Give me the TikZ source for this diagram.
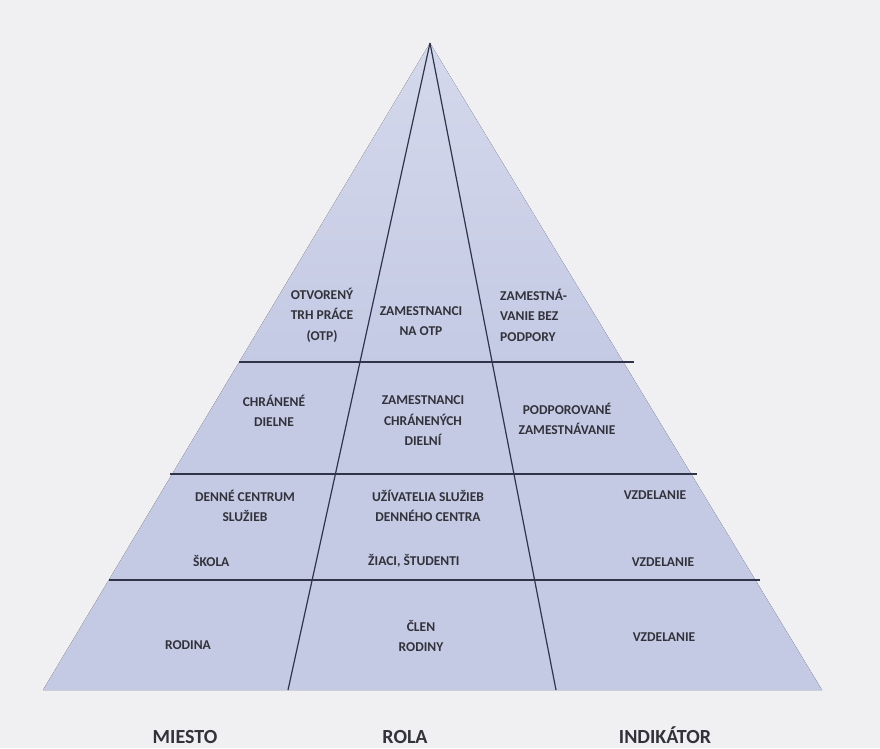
\documentclass[tikz,border=0pt]{standalone}
\usepackage{fontspec}
\setmainfont{Carlito}
\definecolor{bg}{RGB}{240,240,243}
\definecolor{pyr}{RGB}{196,202,228}
\definecolor{pyrtop}{RGB}{212,216,236}
\definecolor{rule}{RGB}{48,52,74}
\definecolor{ink}{RGB}{50,50,58}
\tikzset{
  cell/.style={font=\bfseries\fontsize{13.5}{20.5}\selectfont, text=ink, align=center, inner sep=0pt},
  leftcell/.style={cell, align=left, anchor=west},
  axis label/.style={font=\bfseries\fontsize{20}{22}\selectfont, text=ink, inner sep=0pt},
  band/.style={draw=rule, line width=1.9pt},
  divider/.style={draw=rule, line width=1.2pt},
}
\begin{document}
\begin{tikzpicture}[x=1pt,y=-1pt]
  % canvas
  \fill[bg] (0,0) rectangle (880,748);
  \useasboundingbox (0,0) rectangle (880,748);

  % pyramid corners
  \coordinate (apex) at (430,43);
  \coordinate (bl) at (43,690);
  \coordinate (br) at (822,690);
  \fill[top color=pyrtop, bottom color=pyr, middle color=pyr] (apex) -- (br) -- (bl) -- cycle;

  % column dividers
  \coordinate (c1) at (288,690);
  \coordinate (c2) at (556,690);
  \draw[divider] (apex) -- (c1);
  \draw[divider] (apex) -- (c2);

  % level boundaries
  \coordinate (l1a) at (239,362);  \coordinate (l1b) at (634,362);
  \coordinate (l2a) at (170,474);  \coordinate (l2b) at (697,474);
  \coordinate (l3a) at (109,580);  \coordinate (l3b) at (760,580);
  \draw[band] (l1a) -- (l1b);
  \draw[band] (l2a) -- (l2b);
  \draw[band] (l3a) -- (l3b);

  % level 1
  \node[cell] (otp) at (322,315) {OTVORENÝ\\TRH PRÁCE\\(OTP)};
  \node[cell] (zotp) at (421,321) {ZAMESTNANCI\\NA OTP};
  \node[leftcell] (bez) at (500,315) {ZAMESTNÁ-\\VANIE BEZ\\PODPORY};

  % level 2
  \node[cell] (chd) at (274,411) {CHRÁNENÉ\\DIELNE};
  \node[cell] (zchd) at (423,421) {ZAMESTNANCI\\CHRÁNENÝCH\\DIELNÍ};
  \node[cell] (podz) at (567,419) {PODPOROVANÉ\\ZAMESTNÁVANIE};

  % level 3
  \node[cell] (dcs) at (245,506) {DENNÉ CENTRUM\\SLUŽIEB};
  \node[leftcell] (skola) at (193,561) {ŠKOLA};
  \node[cell] (uzd) at (428,506) {UŽÍVATELIA SLUŽIEB\\DENNÉHO CENTRA};
  \node[leftcell] (ziaci) at (368,561) {ŽIACI, ŠTUDENTI};
  \node[cell] (vzd1) at (655,495) {VZDELANIE};
  \node[cell] (vzd2) at (663,562) {VZDELANIE};

  % level 4
  \node[cell] (rod) at (188,645) {RODINA};
  \node[cell] (clen) at (421,636) {ČLEN\\RODINY};
  \node[cell] (vzd3) at (664,637) {VZDELANIE};

  % axis captions
  \node[axis label] (miesto) at (185,737) {MIESTO};
  \node[axis label] (rola) at (405,737) {ROLA};
  \node[axis label] (ind) at (665,735) {INDIKÁTOR};
\end{tikzpicture}
\end{document}
